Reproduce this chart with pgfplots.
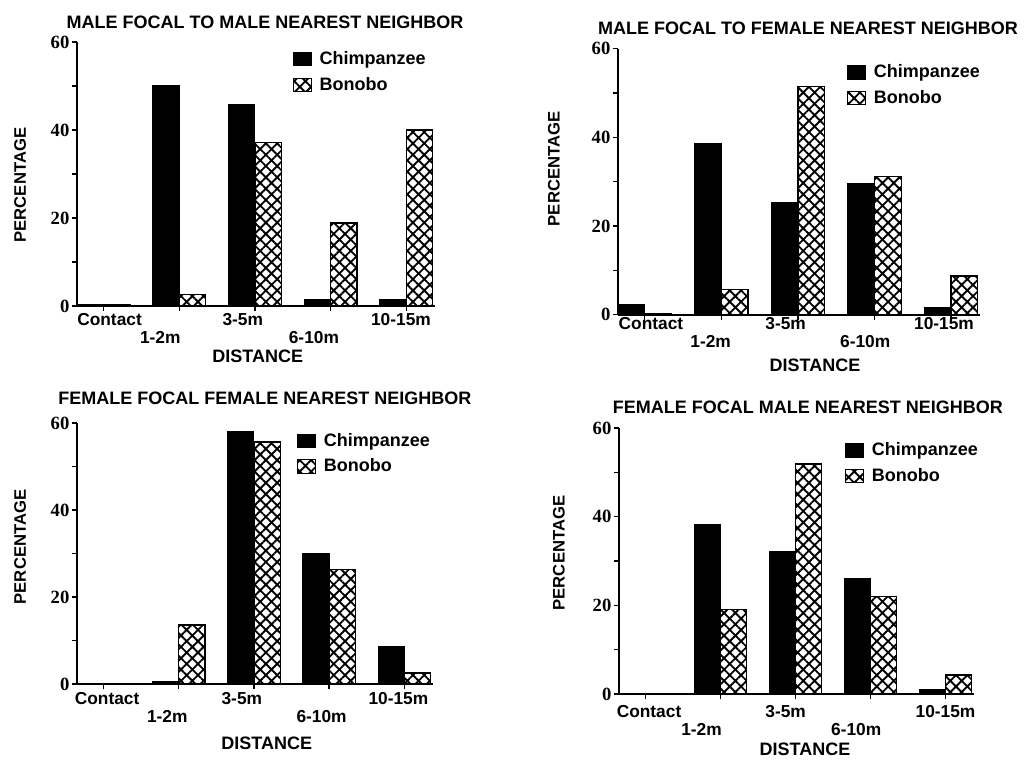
\documentclass[border=0pt]{standalone}
\usepackage{fontspec}
\setmainfont{Liberation Sans}
\newfontfamily\tickfont{Liberation Serif}
\usepackage{pgfplots}
\pgfplotsset{compat=1.18}
\usetikzlibrary{patterns.meta}

\pgfplotsset{
  panel/.style={
    scale only axis,
    anchor=south west,
    clip=false,
    axis x line=bottom, axis y line=left,
    axis line style={line width=1.3pt,-},
    ymin=0, ymax=60,
    ytick={0,20,40,60},
    yticklabel={\tickfont\bfseries\fontsize{14}{14}\selectfont\pgfmathprintnumber[assume math mode=true]{\tick}},
    minor ytick={10,30,50},
    xmin=-0.35, xmax=4.38,
    xtick={0,1,2,3,4}, xticklabels={},
    tick align=outside,
    major tick length=4pt, minor tick length=3.5pt,
    every tick/.style={black, line width=1pt},
    yticklabel style={inner sep=1.5pt},
    extra x tick style={major tick length=0pt,
      xticklabel style={align=center, anchor=north, inner sep=0pt,
        font=\bfseries\fontsize{13}{13.5}\selectfont}},
    extra x tick labels={Contact,{\vphantom{C}\\1-2m},3-5m,{\vphantom{C}\\6-10m},10-15m},
    every axis title/.style={font=\bfseries\fontsize{13.5}{15}\selectfont, anchor=base, inner sep=0pt},
    xlabel={DISTANCE},
    xlabel style={font=\bfseries\fontsize{13.5}{15}\selectfont, anchor=north, inner sep=0pt},
    ylabel={PERCENTAGE},
    ylabel style={font=\bfseries\fontsize{12.5}{14}\selectfont, anchor=center, inner sep=0pt},
    legend style={draw=none, fill=none, inner sep=0pt, anchor=north west,
      font=\bfseries\fontsize{13.5}{15}\selectfont, row sep=4pt,
      nodes={inner sep=2pt}},
    legend cell align=left,
    legend image code/.code={\draw[#1,line width=0.8pt] (0pt,-5pt) rectangle (13.5pt,5pt); \path (17pt,0pt);},
  },
  chimp/.style={ybar, bar width=0.35, bar shift=-0.175, fill=black, draw=black, line width=0.8pt},
  bono/.style={ybar, bar width=0.35, bar shift=0.175, draw=black, line width=1pt,
    pattern={Hatch[angle=45,distance=6pt,line width=1.4pt]}, pattern color=black},
}

\begin{document}
\begin{tikzpicture}
\useasboundingbox (0pt,0pt) rectangle (768pt,570pt);

% Panel 1
\begin{axis}[panel,
  at={(57.75pt,340.5pt)}, width=268.5pt, height=198pt,
  title={MALE FOCAL TO MALE NEAREST NEIGHBOR},
  title style={at={(axis description cs:0.525,1)}, yshift=10.5pt},
  legend style={at={(0.603,0.975)}},
  ylabel style={at={(axis description cs:-0.159,0.458)}},
  xlabel style={at={(axis description cs:0.505,0)}, yshift=-33pt},
  extra x ticks={0.08,0.75,1.84,2.78,3.93},
  extra x tick style={xticklabel style={yshift=-5pt}},
]
\addplot[chimp] coordinates {(0,0.3) (1,50) (2,45.8) (3,1.5) (4,1.5)};
\addplot[bono] coordinates {(0,0.2) (1,2.6) (2,37.2) (3,18.9) (4,40)};
\legend{Chimpanzee,Bonobo}
\end{axis}

% Panel 2
\begin{axis}[panel,
  at={(463.5pt,334pt)}, width=271.5pt, height=199.5pt,
  title={MALE FOCAL TO FEMALE NEAREST NEIGHBOR},
  title style={at={(axis description cs:0.525,1)}, yshift=10.3pt},
  legend style={at={(0.633,0.95)}},
  ylabel style={at={(axis description cs:-0.177,0.548)}},
  xlabel style={at={(axis description cs:0.544,0)}, yshift=-33pt},
  extra x ticks={0.08,0.86,1.84,2.88,3.91},
  extra x tick style={xticklabel style={yshift=-2pt}},
]
\addplot[chimp] coordinates {(0,2.2) (1,38.6) (2,25.4) (3,29.6) (4,1.5)};
\addplot[bono] coordinates {(0,0.3) (1,5.7) (2,51.5) (3,31.1) (4,8.7)};
\legend{Chimpanzee,Bonobo}
\end{axis}

% Panel 3
\begin{axis}[panel,
  at={(57.75pt,57pt)}, width=267pt, height=195.75pt,
  title={FEMALE FOCAL FEMALE NEAREST NEIGHBOR},
  title style={at={(axis description cs:0.528,1)}, yshift=13.5pt},
  legend style={at={(0.618,0.972)}},
  ylabel style={at={(axis description cs:-0.16,0.525)}},
  xlabel style={at={(axis description cs:0.533,0)}, yshift=-39.75pt},
  extra x ticks={0.05,0.85,1.84,2.9,3.92},
  extra x tick style={xticklabel style={yshift=-6pt}},
]
\addplot[chimp] coordinates {(0,0.1) (1,0.5) (2,58.1) (3,29.9) (4,8.5)};
\addplot[bono] coordinates {(0,0.1) (1,13.6) (2,55.6) (3,26.3) (4,2.5)};
\legend{Chimpanzee,Bonobo}
\end{axis}

% Panel 4
\begin{axis}[panel,
  at={(464.25pt,49.5pt)}, width=266.25pt, height=199.5pt,
  title={FEMALE FOCAL MALE NEAREST NEIGHBOR},
  title style={at={(axis description cs:0.532,1)}, yshift=11.25pt},
  legend style={at={(0.637,0.955)}},
  ylabel style={at={(axis description cs:-0.169,0.53)}},
  xlabel style={at={(axis description cs:0.524,0)}, yshift=-36.75pt},
  extra x ticks={0.05,0.75,1.87,2.81,4.0},
  extra x tick style={xticklabel style={yshift=-8pt}},
]
\addplot[chimp] coordinates {(0,0.1) (1,38.2) (2,32.2) (3,26) (4,1)};
\addplot[bono] coordinates {(0,0) (1,19) (2,51.9) (3,22) (4,4.3)};
\legend{Chimpanzee,Bonobo}
\end{axis}
\end{tikzpicture}
\end{document}
